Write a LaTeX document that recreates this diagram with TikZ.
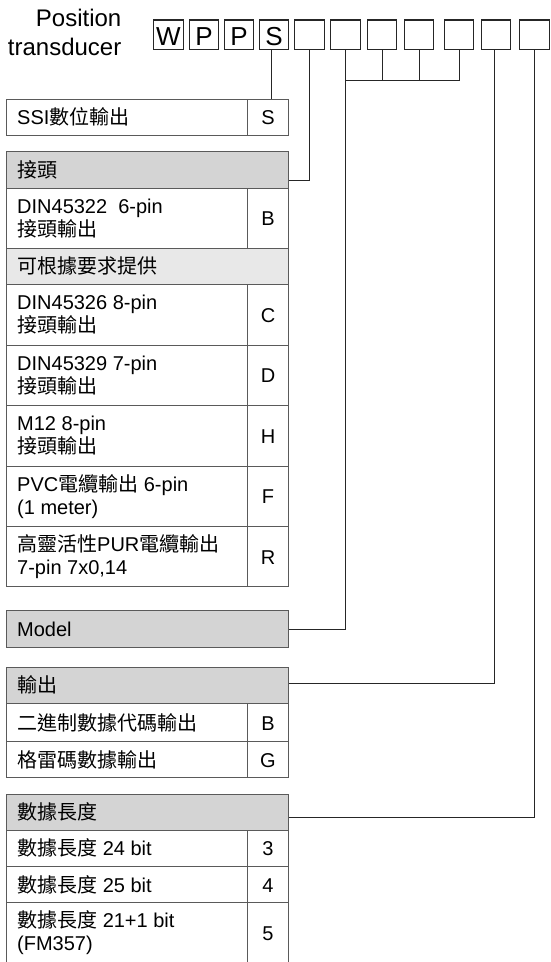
\documentclass[tikz,border=0pt]{standalone}
\usepackage{fontspec}
\setmainfont{Liberation Sans}
\newfontfamily\cjk{Noto Sans CJK TC}
\definecolor{hdrfill}{HTML}{D4D4D4}
\definecolor{subfill}{HTML}{E8E8E8}
\definecolor{tline}{HTML}{5A5A5A}
\newcommand\mkcell[6]{%
  \pgfmathsetmacro\mkcw{#3-#2}\pgfmathsetmacro\mkch{#5-#4}%
  \node[#6, minimum width=\mkcw pt, minimum height=\mkch pt] (#1) at ({(#2+#3)/2},{(#4+#5)/2}) {};}
\tikzset{
  cellbox/.style={draw=tline, line width=1pt, inner sep=0pt, outer sep=0pt, rectangle},
  hdrbox/.style={cellbox, fill=hdrfill},
  subbox/.style={cellbox, fill=subfill},
  topbox/.style={draw=black!85, line width=1.2pt, inner sep=0pt, outer sep=0pt,
    minimum width=29.5pt, minimum height=29.3pt, font=\fontsize{26}{26}\selectfont},
  lbl/.style={anchor=base west, inner sep=0pt, align=left, font=\fontsize{20}{23}\selectfont},
  codetxt/.style={anchor=base, inner sep=0pt, font=\fontsize{20}{23}\selectfont},
  conn/.style={draw=black!85, line width=1pt},
}
\begin{document}
\begin{tikzpicture}[x=1pt,y=-1pt]
\useasboundingbox (0,0) rectangle (550,962);
% title
\node[anchor=base east, inner sep=0pt, align=right, font=\fontsize{24}{28.3}\selectfont] (title) at (121.5,55) {Position\\transducer};
% top code boxes
\node[topbox] (b1) at (168.5,34.7) {};
\node[topbox] (b2) at (204,34.7) {};
\node[topbox] (b3) at (239,34.7) {};
\node[topbox] (b4) at (274,34.7) {};
\node[topbox] (b5) at (309.5,34.7) {};
\node[topbox] (b6) at (345.5,34.7) {};
\node[topbox] (b7) at (382,34.7) {};
\node[topbox] (b8) at (419,34.7) {};
\node[topbox] (b9) at (459,34.7) {};
\node[topbox] (b10) at (496,34.7) {};
\node[topbox] (b11) at (534.5,34.7) {};
\foreach \b/\l in {b1/W,b2/P,b3/P,b4/S}
  \node[anchor=base, inner sep=0pt, font=\fontsize{26}{26}\selectfont] (\b t) at ([yshift=-10.3pt]\b.center) {\l};

% table 1
\mkcell{ssi}{6.5}{247.3}{99.3}{135}{cellbox}
\mkcell{ssiC}{247.3}{288.7}{99.3}{135}{cellbox}
\node[lbl] (ssiT) at ([xshift=10.5pt,yshift=-7.5pt]ssi.west) {SSI{\cjk 數位輸出}};
\node[codetxt] (ssiL) at ([yshift=-7.5pt]ssiC.center) {S};

% table 2
\mkcell{conH}{6.5}{288.7}{151.7}{188.3}{hdrbox}
\node[lbl] (conHT) at ([xshift=10.5pt,yshift=-7.5pt]conH.west) {\cjk 接頭};
\mkcell{dinB}{6.5}{247.3}{188.3}{248.3}{cellbox}
\mkcell{dinBC}{247.3}{288.7}{188.3}{248.3}{cellbox}
\node[lbl] (dinBT) at ([xshift=10.5pt,yshift=-18pt]dinB.west) {DIN45322\ \ 6-pin\\{\cjk 接頭輸出}};
\node[codetxt] (dinBL) at ([yshift=-7.5pt]dinBC.center) {B};
\mkcell{req}{6.5}{288.7}{248.3}{284.3}{subbox}
\node[lbl] (reqT) at ([xshift=10.5pt,yshift=-7.5pt]req.west) {\cjk 可根據要求提供};
\mkcell{dinC}{6.5}{247.3}{284.3}{345}{cellbox}
\mkcell{dinCC}{247.3}{288.7}{284.3}{345}{cellbox}
\node[lbl] (dinCT) at ([xshift=10.5pt,yshift=-18pt]dinC.west) {DIN45326 8-pin\\{\cjk 接頭輸出}};
\node[codetxt] (dinCL) at ([yshift=-7.5pt]dinCC.center) {C};
\mkcell{dinD}{6.5}{247.3}{345}{405.7}{cellbox}
\mkcell{dinDC}{247.3}{288.7}{345}{405.7}{cellbox}
\node[lbl] (dinDT) at ([xshift=10.5pt,yshift=-18pt]dinD.west) {DIN45329 7-pin\\{\cjk 接頭輸出}};
\node[codetxt] (dinDL) at ([yshift=-7.5pt]dinDC.center) {D};
\mkcell{mH}{6.5}{247.3}{405.7}{466}{cellbox}
\mkcell{mHC}{247.3}{288.7}{405.7}{466}{cellbox}
\node[lbl] (mHT) at ([xshift=10.5pt,yshift=-18pt]mH.west) {M12 8-pin\\{\cjk 接頭輸出}};
\node[codetxt] (mHL) at ([yshift=-7.5pt]mHC.center) {H};
\mkcell{pvc}{6.5}{247.3}{466}{526.7}{cellbox}
\mkcell{pvcC}{247.3}{288.7}{466}{526.7}{cellbox}
\node[lbl] (pvcT) at ([xshift=10.5pt,yshift=-18pt]pvc.west) {PVC{\cjk 電纜輸出} 6-pin\\(1 meter)};
\node[codetxt] (pvcL) at ([yshift=-7.5pt]pvcC.center) {F};
\mkcell{pur}{6.5}{247.3}{526.7}{586.7}{cellbox}
\mkcell{purC}{247.3}{288.7}{526.7}{586.7}{cellbox}
\node[lbl] (purT) at ([xshift=10.5pt,yshift=-18pt]pur.west) {{\cjk 高靈活性}PUR{\cjk 電纜輸出}\\7-pin 7x0,14};
\node[codetxt] (purL) at ([yshift=-7.5pt]purC.center) {R};

% table 3
\mkcell{model}{6.5}{288.7}{610.7}{647.3}{hdrbox}
\node[lbl] (modelT) at ([xshift=10.5pt,yshift=-7.5pt]model.west) {Model};

% table 4
\mkcell{outH}{6.5}{288.7}{667.3}{703.3}{hdrbox}
\node[lbl] (outHT) at ([xshift=10.5pt,yshift=-7.5pt]outH.west) {\cjk 輸出};
\mkcell{bin}{6.5}{247.3}{703.3}{741.7}{cellbox}
\mkcell{binC}{247.3}{288.7}{703.3}{741.7}{cellbox}
\node[lbl] (binT) at ([xshift=10.5pt,yshift=-7.5pt]bin.west) {\cjk 二進制數據代碼輸出};
\node[codetxt] (binL) at ([yshift=-7.5pt]binC.center) {B};
\mkcell{gray}{6.5}{247.3}{741.7}{777.3}{cellbox}
\mkcell{grayC}{247.3}{288.7}{741.7}{777.3}{cellbox}
\node[lbl] (grayT) at ([xshift=10.5pt,yshift=-7.5pt]gray.west) {\cjk 格雷碼數據輸出};
\node[codetxt] (grayL) at ([yshift=-7.5pt]grayC.center) {G};

% table 5
\mkcell{lenH}{6.5}{288.7}{794}{830}{hdrbox}
\node[lbl] (lenHT) at ([xshift=10.5pt,yshift=-7.5pt]lenH.west) {\cjk 數據長度};
\mkcell{l24}{6.5}{247.3}{830}{866.7}{cellbox}
\mkcell{l24C}{247.3}{288.7}{830}{866.7}{cellbox}
\node[lbl] (l24T) at ([xshift=10.5pt,yshift=-7.5pt]l24.west) {{\cjk 數據長度} 24 bit};
\node[codetxt] (l24L) at ([yshift=-7.5pt]l24C.center) {3};
\mkcell{l25}{6.5}{247.3}{866.7}{902.7}{cellbox}
\mkcell{l25C}{247.3}{288.7}{866.7}{902.7}{cellbox}
\node[lbl] (l25T) at ([xshift=10.5pt,yshift=-7.5pt]l25.west) {{\cjk 數據長度} 25 bit};
\node[codetxt] (l25L) at ([yshift=-7.5pt]l25C.center) {4};
\mkcell{l21}{6.5}{247.3}{902.7}{966}{cellbox}
\mkcell{l21C}{247.3}{288.7}{902.7}{966}{cellbox}
\node[lbl] (l21T) at ([xshift=10.5pt,yshift=-16.6pt]l21.west) {{\cjk 數據長度} 21+1 bit\\(FM357)};
\node[codetxt] (l21L) at ([yshift=-6pt]l21C.center) {5};

% connectors
\draw[conn] ([xshift=-3pt]b4.south) -- ([xshift=-3pt]b4.south |- ssi.north);
\draw[conn] (b5.south) |- ([yshift=-10pt]conH.east);
\draw[conn] (b6.south) |- (model.east);
\draw[conn] (b7.south) -- (b7.south |- 0,80);
\draw[conn] (b8.south) -- (b8.south |- 0,80);
\draw[conn] (b9.south) -- (b9.south |- 0,80) -- (b6.south |- 0,80);
\draw[conn] ([xshift=-2pt]b10.south) |- ([yshift=2pt]outH.east);
\draw[conn] (b11.south) |- ([yshift=-5.3pt]lenH.east);
\end{tikzpicture}
\end{document}
